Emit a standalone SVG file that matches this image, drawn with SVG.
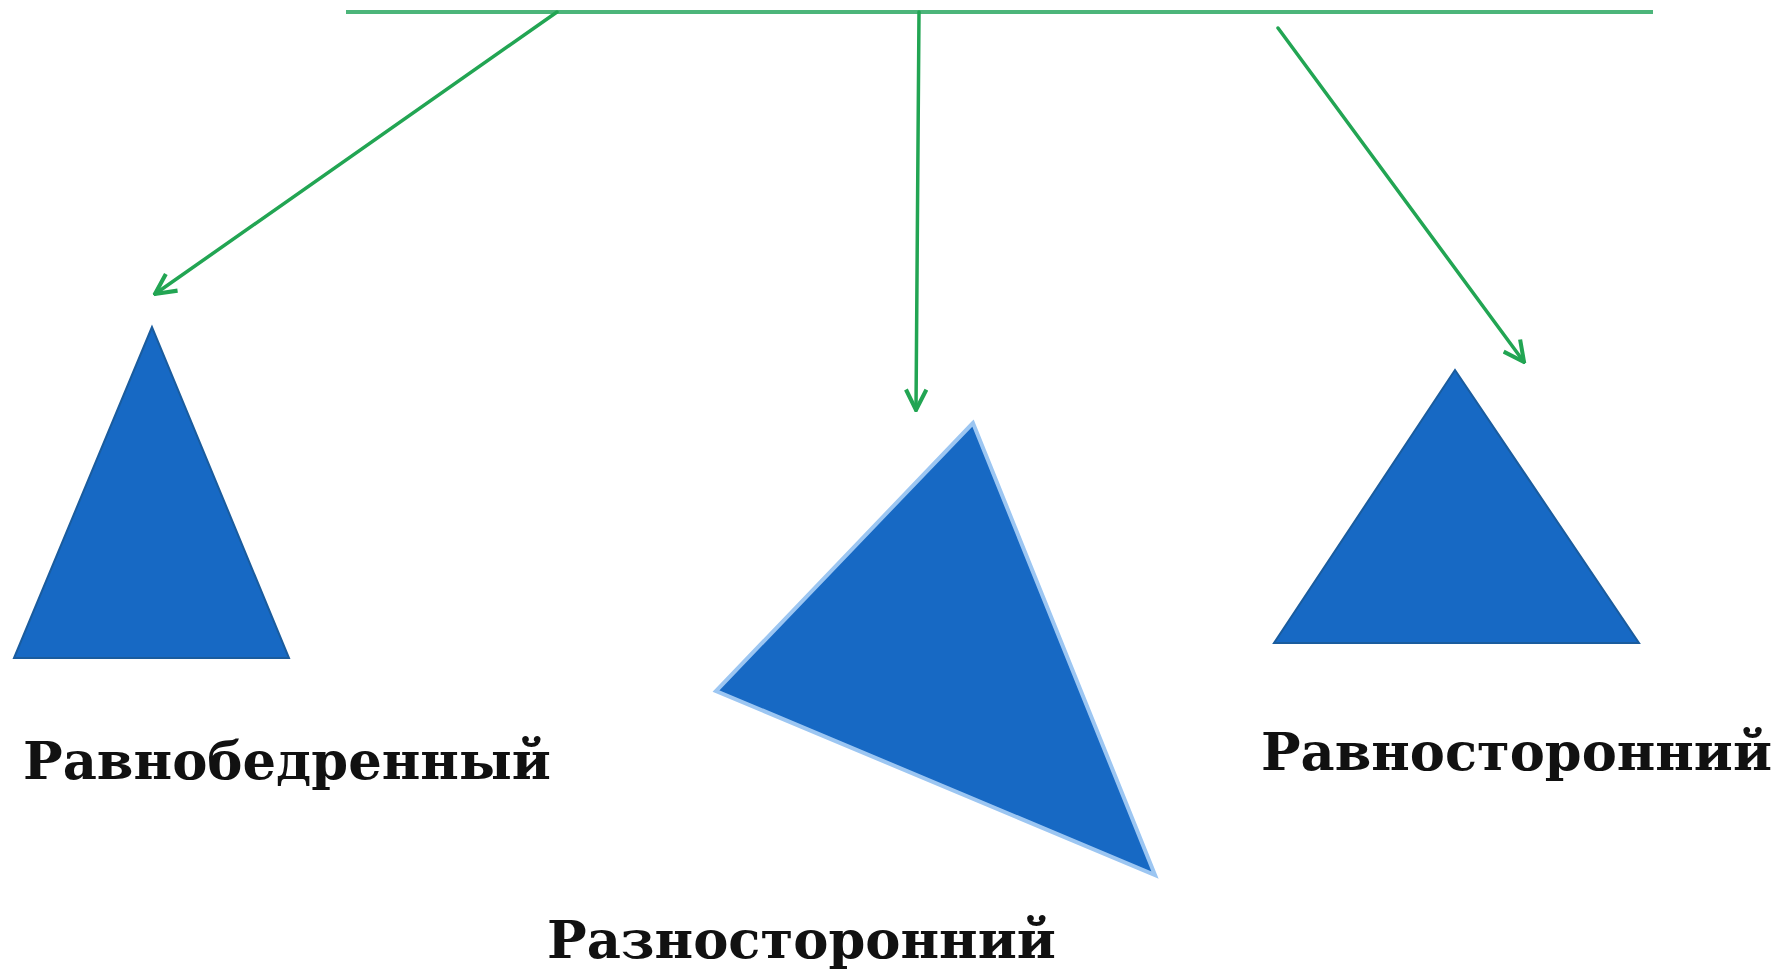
<svg xmlns="http://www.w3.org/2000/svg" width="1781" height="972" viewBox="0 0 1781 972">
<style>
.conn{stroke:#22a553;stroke-width:3.5;fill:none;stroke-linecap:round}
.bar{stroke:#4cb57a;stroke-width:4;fill:none}
.tri{fill:#1769c4;stroke:#1a5c9e;stroke-width:2;stroke-linejoin:miter}
.tri2{fill:#1769c4;stroke:#9cc6f2;stroke-width:4;stroke-linejoin:miter}
.lbl{font-family:"DejaVu Serif","Liberation Serif",serif;font-weight:bold;font-size:52px;fill:#111}
</style>
<defs>
<marker id="arr" viewBox="0 0 12 12" refX="11" refY="6" markerWidth="7" markerHeight="7" orient="auto" markerUnits="strokeWidth">
<path d="M1,1 L11,6 L1,11" fill="none" stroke="#22a553" stroke-width="2"/>
</marker>
</defs>
<rect width="1781" height="972" fill="#ffffff"/>
<g id="connectors">
<line class="bar" x1="346" y1="12" x2="1653" y2="12"/>
<line class="conn" x1="557" y1="12" x2="155" y2="294" marker-end="url(#arr)"/>
<line class="conn" x1="919" y1="12" x2="916" y2="410" marker-end="url(#arr)"/>
<line class="conn" x1="1278" y1="28" x2="1524" y2="362" marker-end="url(#arr)"/>
</g>
<g id="isosceles">
<polygon class="tri" points="152,327 14,658 289,658"/>
<text class="lbl" x="23" y="779" textLength="528" lengthAdjust="spacingAndGlyphs">Равнобедренный</text>
</g>
<g id="scalene">
<polygon class="tri2" points="973,423 716,691 1155,875"/>
<text class="lbl" x="547" y="958" textLength="509" lengthAdjust="spacingAndGlyphs">Разносторонний</text>
</g>
<g id="equilateral">
<polygon class="tri" points="1455,370 1274,643 1639,643"/>
<text class="lbl" x="1261" y="770" textLength="511" lengthAdjust="spacingAndGlyphs">Равносторонний</text>
</g>
</svg>
